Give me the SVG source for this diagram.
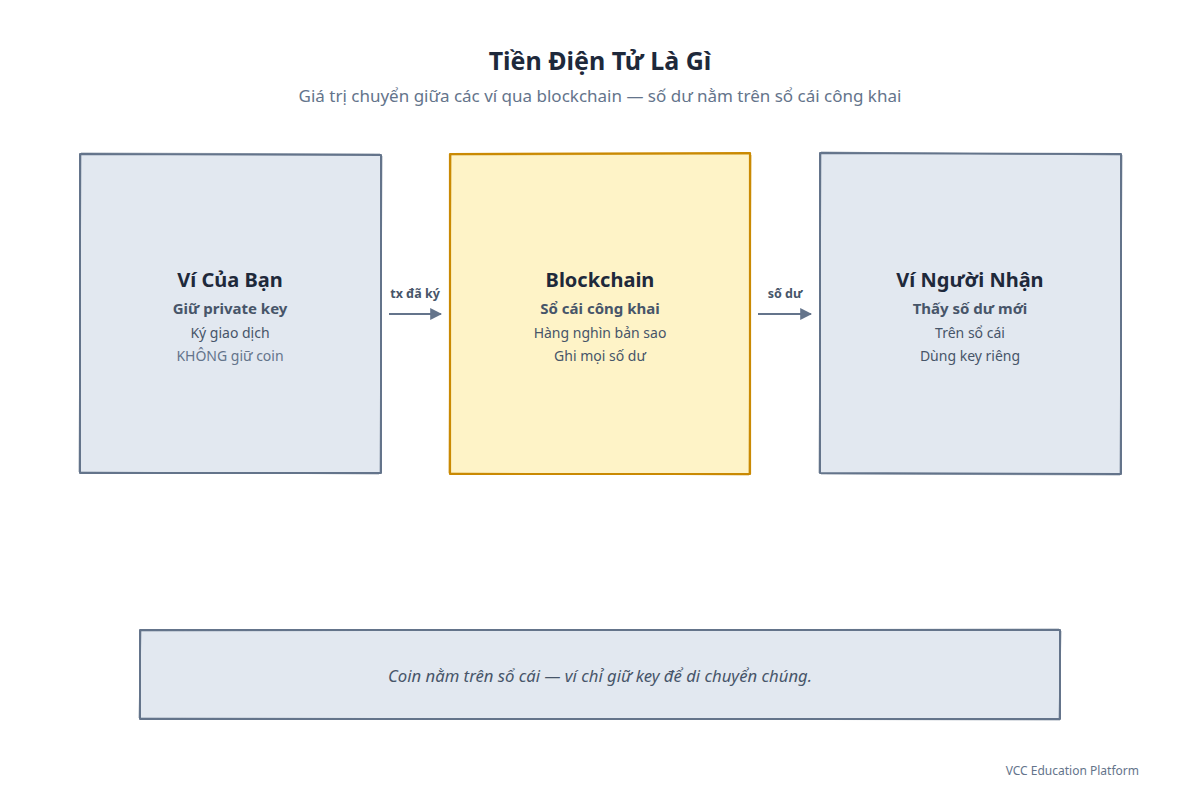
<svg xmlns="http://www.w3.org/2000/svg" width="1200" height="800" viewBox="0 0 1200 800">
<defs>
<style>
text{font-family:"Noto Sans","Open Sans","DejaVu Sans",sans-serif;text-anchor:middle}
.title{font-size:25px;font-weight:700;fill:#1e293b}
.sub{font-size:17px;fill:#64748b}
.nt{font-size:20px;font-weight:700;fill:#1e293b}
.n2{font-size:15px;font-weight:700;fill:#475569}
.n3{font-size:14px;fill:#475569}
.n4{font-size:14px;fill:#64748b}
.el{font-size:12.5px;font-weight:700;fill:#475569}
.box{fill:#e2e8f0;stroke:#64748b;stroke-width:2;stroke-linejoin:round}
.hi{fill:#fef3c7;stroke:#ca8a04;stroke-width:2.2;stroke-linejoin:round}
.sk{fill:none;stroke-width:1;opacity:0.6}
.edge{stroke:#64748b;stroke-width:2;fill:none}
</style>
<marker id="ah" viewBox="0 0 10 10" refX="9" refY="5" markerWidth="6" markerHeight="6" orient="auto-start-reverse"><path d="M0,0 L10,5 L0,10 z" fill="#64748b"/></marker>
</defs>
<rect width="1200" height="800" fill="#ffffff"/>
<text class="title" x="600" y="70">Tiền Điện Tử Là Gì</text>
<text class="sub" x="600" y="102">Giá trị chuyển giữa các ví qua blockchain — số dư nằm trên sổ cái công khai</text>

<g id="connectors">
<line class="edge" x1="389" y1="314" x2="441" y2="314" marker-end="url(#ah)"/>
<text class="el" x="415" y="298">tx đã ký</text>
<line class="edge" x1="758" y1="314" x2="811" y2="314" marker-end="url(#ah)"/>
<text class="el" x="785" y="298">số dư</text>
</g>

<g id="node-wallet">
<path class="box" d="M80,154 L381,155 L381,473 L80,473 Z"/>
<path class="sk" stroke="#64748b" d="M81,153 L380,154 M382,156 L380,472 M379,474 L81,472 M79,472 L81,155"/>
<text class="nt" x="230" y="287">Ví Của Bạn</text>
<text class="n2" x="230" y="314">Giữ private key</text>
<text class="n3" x="230" y="338">Ký giao dịch</text>
<text class="n4" x="230" y="361">KHÔNG giữ coin</text>
</g>

<g id="node-blockchain">
<path class="hi" d="M450,154 L750,153 L750,474 L450,474 Z"/>
<path class="sk" stroke="#ca8a04" d="M451,155 L749,154 M751,155 L749,473 M749,475 L451,473 M449,473 L451,155"/>
<text class="nt" x="600" y="287">Blockchain</text>
<text class="n2" x="600" y="314">Sổ cái công khai</text>
<text class="n3" x="600" y="338">Hàng nghìn bản sao</text>
<text class="n3" x="600" y="361">Ghi mọi số dư</text>
</g>

<g id="node-receiver">
<path class="box" d="M820,153 L1121,154 L1121,474 L820,473 Z"/>
<path class="sk" stroke="#64748b" d="M821,152 L1120,155 M1122,155 L1120,473 M1120,475 L821,474 M819,473 L821,154"/>
<text class="nt" x="970" y="287">Ví Người Nhận</text>
<text class="n2" x="970" y="314">Thấy số dư mới</text>
<text class="n3" x="970" y="338">Trên sổ cái</text>
<text class="n3" x="970" y="361">Dùng key riêng</text>
</g>

<g id="node-note">
<path class="box" d="M140,630 L1060,630 L1060,719 L140,719 Z"/>
<path class="sk" stroke="#64748b" d="M141,631 L1059,629 M1061,631 L1059,718 M1060,720 L141,718 M139,718 L141,631"/>
<text x="600" y="682" style="font-size:16.7px;font-style:italic;fill:#475569">Coin nằm trên sổ cái — ví chỉ giữ key để di chuyển chúng.</text>
</g>

<text x="1139" y="775" style="font-size:12px;fill:#64748b;text-anchor:end">VCC Education Platform</text>
</svg>
